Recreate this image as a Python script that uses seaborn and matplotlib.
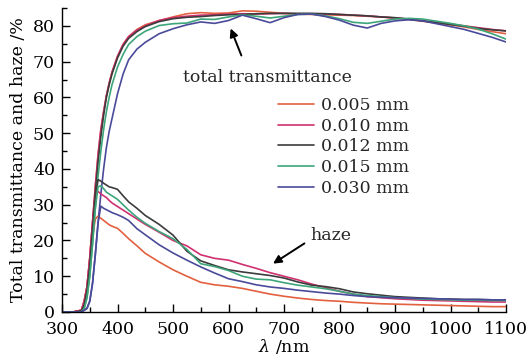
import numpy as np
import pandas as pd
import matplotlib
matplotlib.use("Agg")
import matplotlib.pyplot as plt
from matplotlib.ticker import MultipleLocator
import seaborn as sns

# wavelength grid (nm)
wavelength = [300, 320, 335, 340, 345, 350, 355, 360, 365, 370, 375, 380, 385, 390,
              400, 410, 420, 435, 450, 475, 500, 525, 550, 575, 600, 625, 650, 675,
              700, 725, 750, 775, 800, 825, 850, 875, 900, 925, 950, 975, 1000, 1025,
              1050, 1075, 1100]

thickness = ["0.005 mm", "0.010 mm", "0.012 mm", "0.015 mm", "0.030 mm"]
colors = ["#E3603F", "#D03070", "#3C3C3C", "#3DA57A", "#4A4A9A"]

# total transmittance (%)
trans_005 = [0, 0, 0.5, 3, 7, 15, 25, 35, 44, 51, 56, 60.5, 64, 67, 71.5, 74.8, 77, 79,
             80.3, 81.5, 82.5, 83.4, 83.7, 83.5, 83.6, 84.2, 84.1, 83.8, 83.5, 83.3, 83.2,
             83.1, 83, 82.9, 82.7, 82.5, 82.2, 81.8, 81.3, 80.8, 80.3, 79.7, 79, 78.4, 77.8]
trans_010 = [0, 0, 0.5, 3, 7, 15, 25, 35, 44, 51, 56, 60.5, 64, 67, 71.5, 74.8, 77, 78.8,
             80, 81.5, 82.3, 82.7, 83, 83.1, 83.3, 83.4, 83.3, 83.4, 83.5, 83.4, 83.4,
             83.3, 83.2, 83, 82.8, 82.5, 82.2, 81.9, 81.4, 81, 80.5, 80, 79.5, 79, 78.6]
trans_012 = [0, 0, 0.3, 2, 6, 13, 23, 33, 42, 49, 55, 60, 63.5, 66.5, 71, 74.3, 76.5, 78.4,
             79.8, 81.2, 82, 82.4, 82.6, 82.9, 83.1, 83.2, 83.4, 83.5, 83.5, 83.5, 83.5,
             83.4, 83.2, 83, 82.8, 82.5, 82.3, 81.9, 81.4, 80.9, 80.4, 79.9, 79.3, 78.9, 78.6]
trans_015 = [0, 0, 0, 1, 4, 10, 19, 29, 38, 45, 51, 56, 60, 63.5, 68.5, 72, 74.8, 77,
             78.5, 80.1, 80.6, 80.8, 81.9, 81.8, 82.5, 83.1, 82.7, 82.2, 82.7, 83.2, 83.3,
             82.8, 82, 81, 80.7, 81.3, 81.9, 82.1, 81.9, 81.3, 80.7, 80, 79.1, 77.8, 76.3]
trans_030 = [0, 0, 0, 0.5, 1, 3, 8, 16, 25, 33, 40, 46, 50.5, 54, 61, 66.5, 70.5, 73.5,
             75.4, 77.8, 79.2, 80.3, 81.1, 80.7, 81.5, 83, 82, 80.9, 82.3, 83.2, 83.3,
             82.6, 81.6, 80.2, 79.4, 80.7, 81.4, 81.7, 81.4, 80.6, 79.8, 79, 77.9, 76.8, 75.5]

# haze (%)
haze_005 = [0, 0, 0.5, 3, 7, 14, 21, 26, 26.8, 26.2, 25.6, 25, 24.4, 24, 23.4, 22, 20.5,
            18.5, 16.4, 14, 11.8, 10, 8.3, 7.6, 7.2, 6.6, 5.8, 5, 4.4, 3.9, 3.5, 3.2, 3,
            2.7, 2.5, 2.3, 2.2, 2.1, 2, 1.9, 1.8, 1.7, 1.6, 1.5, 1.5]
haze_010 = [0, 0, 0.5, 3, 7, 15, 25, 33, 33.7, 33, 32.5, 32, 31.2, 30.5, 29.5, 28.5, 27.5,
            26, 24.5, 22.3, 20, 18.5, 16, 15, 14.5, 13.3, 12.2, 11, 10, 9, 7.8, 6.8, 5.8,
            5, 4.3, 4, 3.7, 3.5, 3.3, 3.2, 3.1, 3, 2.9, 2.8, 2.8]
haze_012 = [0, 0, 0.3, 2, 6, 13, 23, 33, 37, 36.6, 36, 35.5, 35, 34.8, 34.3, 32.5, 30.8,
            29, 27, 24.5, 21.5, 17, 14.3, 13, 11.8, 11.2, 10.7, 10.2, 9.5, 8.4, 7.5, 7.1,
            6.5, 5.6, 5.1, 4.7, 4.3, 4.1, 3.9, 3.7, 3.6, 3.5, 3.5, 3.4, 3.4]
haze_015 = [0, 0, 0, 1, 4, 10, 19, 29, 35, 35.3, 34.5, 33.5, 33, 32.5, 31.5, 30, 28.5,
            26.5, 24.8, 22.5, 20.5, 17.5, 13.5, 12.7, 11.6, 10, 9.2, 9, 8.2, 7.5, 7, 6.5,
            5.8, 5, 4.6, 4.3, 4, 3.8, 3.6, 3.5, 3.4, 3.3, 3.3, 3.2, 3.2]
haze_030 = [0, 0, 0, 0.5, 1, 3, 8, 16, 25, 29.6, 29, 28.6, 28.2, 27.8, 27.2, 26.5, 25.6,
            23.3, 21.6, 18.8, 16.5, 14.5, 12.6, 10.9, 9.3, 8.5, 7.6, 7, 6.6, 6.1, 5.7,
            5.3, 5, 4.6, 4.3, 4.1, 4, 3.9, 3.8, 3.7, 3.6, 3.5, 3.5, 3.4, 3.4]

trans = [trans_005, trans_010, trans_012, trans_015, trans_030]
haze = [haze_005, haze_010, haze_012, haze_015, haze_030]


def long_table(series):
    frames = []
    for name, vals in zip(thickness, series):
        frames.append(pd.DataFrame({"wavelength": wavelength, "value": vals,
                                    "thickness": name}))
    return pd.concat(frames, ignore_index=True)


df_t = long_table(trans)
df_h = long_table(haze)

sns.set_theme(style="ticks")
plt.rcParams["font.family"] = ["DejaVu Serif"]
plt.rcParams["mathtext.fontset"] = "dejavuserif"

fig = plt.figure(figsize=(5.31, 3.63), dpi=100)
ax = fig.add_axes([62 / 531, (363 - 312) / 363, 444 / 531, 304 / 363])

palette = dict(zip(thickness, colors))
sns.lineplot(data=df_t, x="wavelength", y="value", hue="thickness", hue_order=thickness,
             palette=palette, linewidth=1.2, ax=ax)
sns.lineplot(data=df_h, x="wavelength", y="value", hue="thickness", hue_order=thickness,
             palette=palette, linewidth=1.2, legend=False, ax=ax)

ax.set_xlim(300, 1100)
ax.set_ylim(0, 85)
ax.xaxis.set_major_locator(MultipleLocator(100))
ax.xaxis.set_minor_locator(MultipleLocator(50))
ax.yaxis.set_major_locator(MultipleLocator(10))
ax.yaxis.set_minor_locator(MultipleLocator(5))
ax.tick_params(which="both", direction="in", colors="black", labelsize=12.5)
ax.tick_params(which="major", length=6, width=1)
ax.tick_params(which="minor", length=3.5, width=1)
ax.tick_params(axis="y", pad=5)
ax.tick_params(axis="x", pad=6.5)
sns.despine(ax=ax)
for s in ["left", "bottom"]:
    ax.spines[s].set_color("black")
    ax.spines[s].set_linewidth(1)

ax.set_xlabel(r"$\lambda$ /nm", fontsize=12.5, color="black", labelpad=-1)
ax.set_ylabel("Total transmittance and haze /%", fontsize=12.5, color="black", labelpad=4)

ax.text(671, 65.7, "total transmittance", fontsize=12.5, ha="center", va="center")
ax.annotate("", xy=(602, 80), xytext=(625, 71),
            arrowprops=dict(arrowstyle="-|>", color="black", lw=1.4, mutation_scale=12))
ax.text(785, 21.5, "haze", fontsize=12.5, ha="center", va="center")
ax.annotate("", xy=(676, 13.1), xytext=(741, 19.6),
            arrowprops=dict(arrowstyle="-|>", color="black", lw=1.4, mutation_scale=12))

leg = ax.legend(loc="upper left", bbox_to_anchor=(0.486, 0.707), frameon=False,
                fontsize=12.5, handlelength=2.1, handletextpad=0.4, labelspacing=0.21,
                borderaxespad=0, borderpad=0)
for line in leg.get_lines():
    line.set_linewidth(1.2)

fig.savefig("out.png", dpi=100)
